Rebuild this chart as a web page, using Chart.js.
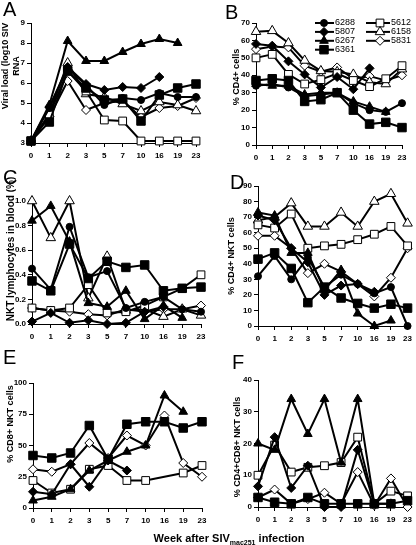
<!DOCTYPE html>
<html>
<head>
<meta charset="utf-8">
<script src="https://cdn.jsdelivr.net/npm/chart.js@4.4.1/dist/chart.umd.min.js"></script>
<style>
  body { margin: 0; background: #fff; overflow: hidden; }
  #fig { position: relative; width: 416px; height: 545px; font-family: "Liberation Sans", Arial, sans-serif; }
  #fig canvas { position: absolute; left: 0; top: 0; }
  .letter { position: absolute; font-size: 20px; line-height: 1; }
  #xlab { position: absolute; left: 129px; width: 200px; top: 532px; text-align: center; font-weight: bold; font-size: 11px; }
  #xlab sub { font-size: 7px; }
</style>
</head>
<body>
<div id="fig">
  <canvas id="cA" width="416" height="545"></canvas>
  <canvas id="cB" width="416" height="545"></canvas>
  <canvas id="cC" width="416" height="545"></canvas>
  <canvas id="cD" width="416" height="545"></canvas>
  <canvas id="cE" width="416" height="545"></canvas>
  <canvas id="cF" width="416" height="545"></canvas>
  <div class="letter" style="left:3px;top:-1px">A</div>
  <div class="letter" style="left:225px;top:2px">B</div>
  <div class="letter" style="left:3px;top:167px">C</div>
  <div class="letter" style="left:230px;top:172px">D</div>
  <div class="letter" style="left:3px;top:347px">E</div>
  <div class="letter" style="left:232px;top:352px">F</div>
  <div id="xlab">Week after SIV<sub>mac251</sub> infection</div>
</div>
<script>
"use strict";

const weeks = ['0', '1', '2', '3', '5', '7', '10', '16', '19', '23'];
const monkeys = ['6288', '5807', '6267', '6361', '5612', '6158', '5831'];

// rows follow the monkeys order; null = animal not plotted in that panel
const viralLoad = [
  [3.1, 4.75, 6.75, 5.9, 4.9, 5.25, 5.15, 5.5, 5.3, 5.3],
  [3.1, 4.8, 6.8, 5.95, 5.65, 5.8, 5.75, 6.3],
  [3.1, 4.9, 8.1, 7.1, 7.1, 7.55, 7.95, 8.2, 8.0],
  [3.1, 4.05, 6.6, 5.75, 5.15, 5.2, 4.1, 5.4, 5.75, 5.95],
  [3.1, 4.4, 6.6, 5.6, 4.15, 4.1, 3.1, 3.1, 3.1, 3.1],
  [3.1, 4.45, 7.0, 5.45, 5.3, 4.95, 4.6, 5.05, 4.9, 4.6],
  [3.1, 4.3, 6.1, 4.65, 5.0, 5.1, 4.3, 4.75, 4.85, 5.25]
];

const cd4Cells = [
  [34, 35, 33, 28, 29, 30, 24, 20, 19, 24],
  [58, 57, 48, 40.5, 33, 39, 32, 44],
  [35, 34, 34, 29, 30, 30, 25, 22, 19],
  [37, 38, 37, 25, 26, 30, 20, 12, 13, 10],
  [50, 52, 40.5, 35, 37.5, 41, 37, 33.5, 38, 45.5],
  [65, 65.5, 58.5, 48.5, 42.5, 42, 40.5, 36, 35, 43.5],
  [55, 56.5, 56, 45.5, 42, 44.5, 38, 39.5, 37, 40]
];

const nktBlood = [
  [0.45, 0.28, 0.79, 0.38, 0.43, 0.13, 0.18, 0.22, 0.12, 0.10],
  [0.02, 0.09, 0.01, 0.03, 0.0, 0.01, 0.10, 0.14],
  [0.84, 0.96, 0.67, 0.17, 0.14, 0.27, 0.04, 0.15, 0.05],
  [0.35, 0.27, 0.65, 0.37, 0.51, 0.46, 0.48, 0.27, 0.29, 0.30],
  [0.13, 0.11, 0.13, 0.32, 0.09, 0.10, 0.15, 0.22, 0.29, 0.40],
  [1.0, 0.70, 1.0, 0.21, 0.55, 0.11, 0.12, 0.06, 0.12, 0.07],
  [0.13, 0.11, 0.10, 0.08, 0.07, 0.12, 0.10, 0.12, 0.12, 0.15]
];

const cd4Nkt = [
  [32, 45, 30, 44, 25, 33, 27, 21, 25, 0],
  [71, 68, 50, 41, 20, 26, 27, 22],
  [73, 71, 47, 47, 23, 36, 8, 0, 3.5],
  [43, 47, 37, 15, 25, 18, 14.5, 11.5, 14, 11.5],
  [65, 63, 72, 50, 51.5, 52.5, 55.5, 59, 64, 51.5],
  [68, 70, 79, 64, 64, 73, 64, 80, 85, 66],
  [58, 58, 50, 34, 40, 35, 27, 19, 31, 50]
];

const cd8Nkt = [
  null,
  [13, 11, 35, 17, 38, 30],
  [6, 9, 15, 30, 38, 45, 50, 90, 77],
  [42, 40, 44, 66, 39, 67, 69, 69, 64, 69],
  [22, 12, 15, 31, 34, 22, 22, null, 28, 34],
  null,
  [31, 29, 35, 52, 40, 58, 50, 74, 36, 25]
];

const dpNkt = [
  null,
  [6.5, 22, 6, 13, 0, 0, 18, 1],
  [20, 18, 34, 23, 34, 14, 34, 1, 1],
  [3, 1.5, 1, 3, 1, 1, 1, 1, 1, 2],
  [10, 19.5, 11, 12.5, 13, 14, 22, 1, 5, 3.5],
  null,
  [3, 5.5, 1, 2.5, 4.5, 1, 11, 0.5, 9, 0]
];

const markers = [
  { style: 'circle', r: 3.5, fill: '#000' },
  { style: 'rectRot', r: 4.5, fill: '#000' },
  { style: 'triangle', r: 5, fill: '#000' },
  { style: 'rect', r: 6, fill: '#000' },
  { style: 'rect', r: 5.5, fill: '#fff' },
  { style: 'triangle', r: 5.5, fill: '#fff' },
  { style: 'rectRot', r: 4.5, fill: '#fff' }
];

const yTitlePlugin = {
  id: 'yTitle',
  afterDraw(chart, args, opts) {
    const ctx = chart.ctx;
    const lines = [].concat(opts.text);
    ctx.save();
    ctx.translate(opts.x, opts.y);
    ctx.rotate(-Math.PI / 2);
    ctx.font = opts.font;
    ctx.fillStyle = '#000';
    ctx.textAlign = 'center';
    ctx.textBaseline = 'middle';
    lines.forEach((t, i) => ctx.fillText(t, 0, (i - (lines.length - 1) / 2) * 11));
    ctx.restore();
  }
};

// two-column legend like the one in panel B
const legendPlugin = {
  id: 'monkeyLegend',
  afterDraw(chart, args, opts) {
    if (!opts.show) return;
    const ctx = chart.ctx;
    chart.data.datasets.forEach((ds, i) => {
      const col = i < 4 ? 0 : 1;
      const row = col ? i - 4 : i;
      const x0 = col ? 366 : 315;
      const x1 = col ? 390 : 334;
      const mx = col ? 380 : 324;
      const y = 23 + row * 8.9;
      ctx.save();
      ctx.strokeStyle = '#000';
      ctx.lineWidth = 2;
      ctx.beginPath();
      ctx.moveTo(x0, y);
      ctx.lineTo(x1, y);
      ctx.stroke();
      ctx.fillStyle = markers[i].fill;
      ctx.lineWidth = 1;
      Chart.helpers.drawPoint(ctx, { pointStyle: markers[i].style, radius: markers[i].r, borderWidth: 1, rotation: 0 }, mx, y);
      ctx.fillStyle = '#000';
      ctx.font = '9px "Liberation Sans", Arial, sans-serif';
      ctx.textAlign = 'left';
      ctx.textBaseline = 'middle';
      ctx.fillText(ds.label, x1 + 1, y);
      ctx.restore();
    });
  }
};

const tickFont = { family: '"Liberation Sans", Arial, sans-serif', size: 8, weight: 'bold' };

function makePanel(id, values, plot, yMin, yMax, yStep, title, legend) {
  const [L, T, R, B] = plot;
  const yW = 30, xH = 20;
  const axisLine = { display: true, color: '#000', width: 1 };
  const grid = { drawOnChartArea: false, drawTicks: true, tickLength: 4, color: '#000', lineWidth: 1 };
  return new Chart(document.getElementById(id), {
    type: 'line',
    data: {
      labels: weeks,
      datasets: monkeys.map((m, i) => ({
        label: m,
        data: values[i] || [],
        borderColor: '#000',
        borderWidth: 2,
        pointStyle: markers[i].style,
        pointRadius: markers[i].r,
        pointBackgroundColor: markers[i].fill,
        pointBorderColor: '#000',
        pointBorderWidth: 1,
        tension: 0,
        spanGaps: true,
        clip: false
      }))
    },
    options: {
      responsive: false,
      animation: false,
      events: [],
      layout: { padding: { left: L - yW, top: T, right: 416 - R, bottom: 545 - B - xH } },
      scales: {
        x: {
          offset: false,
          afterFit: s => { s.height = xH; },
          grid: grid,
          border: axisLine,
          ticks: { color: '#000', font: tickFont, autoSkip: false, maxRotation: 0, padding: 4 }
        },
        y: {
          min: yMin,
          max: yMax,
          afterFit: s => { s.width = yW; },
          grid: grid,
          border: axisLine,
          ticks: {
            color: '#000', font: tickFont, stepSize: yStep, padding: 2,
            callback: v => yStep < 1 ? v.toFixed(1) : v
          }
        }
      },
      plugins: {
        legend: { display: false },
        tooltip: { enabled: false },
        yTitle: title,
        monkeyLegend: { show: !!legend }
      }
    },
    plugins: [yTitlePlugin, legendPlugin]
  });
}

const bold9 = 'bold 9px "Liberation Sans", Arial, sans-serif';

makePanel('cA', viralLoad, [31, 23, 196, 143], 3, 9, 1,
  { text: ['Viral load (log10 SIV', 'RNA'], x: 11.5, y: 66, font: bold9 });
makePanel('cB', cd4Cells, [256, 23, 402, 145], 0, 70, 10,
  { text: '% CD4+ cells', x: 237, y: 77, font: bold9 }, true);
makePanel('cC', nktBlood, [32, 201, 201, 324], 0, 1, 0.2,
  { text: 'NKT lymphocytes in blood (%)', x: 11, y: 249, font: 'bold 10px "Liberation Sans", Arial, sans-serif' });
makePanel('cD', cd4Nkt, [258, 186, 410, 326], 0, 90, 10,
  { text: '% CD4+ NKT cells', x: 232, y: 256, font: bold9 });
makePanel('cE', cd8Nkt, [33, 383, 202, 508], 0, 100, 25,
  { text: '% CD8+ NKT cells', x: 11, y: 424, font: bold9 });
makePanel('cF', dpNkt, [258, 380, 412, 507], 0, 40, 10,
  { text: '% CD4+CD8+ NKT cells', x: 238, y: 447, font: bold9 });
</script>
</body>
</html>
